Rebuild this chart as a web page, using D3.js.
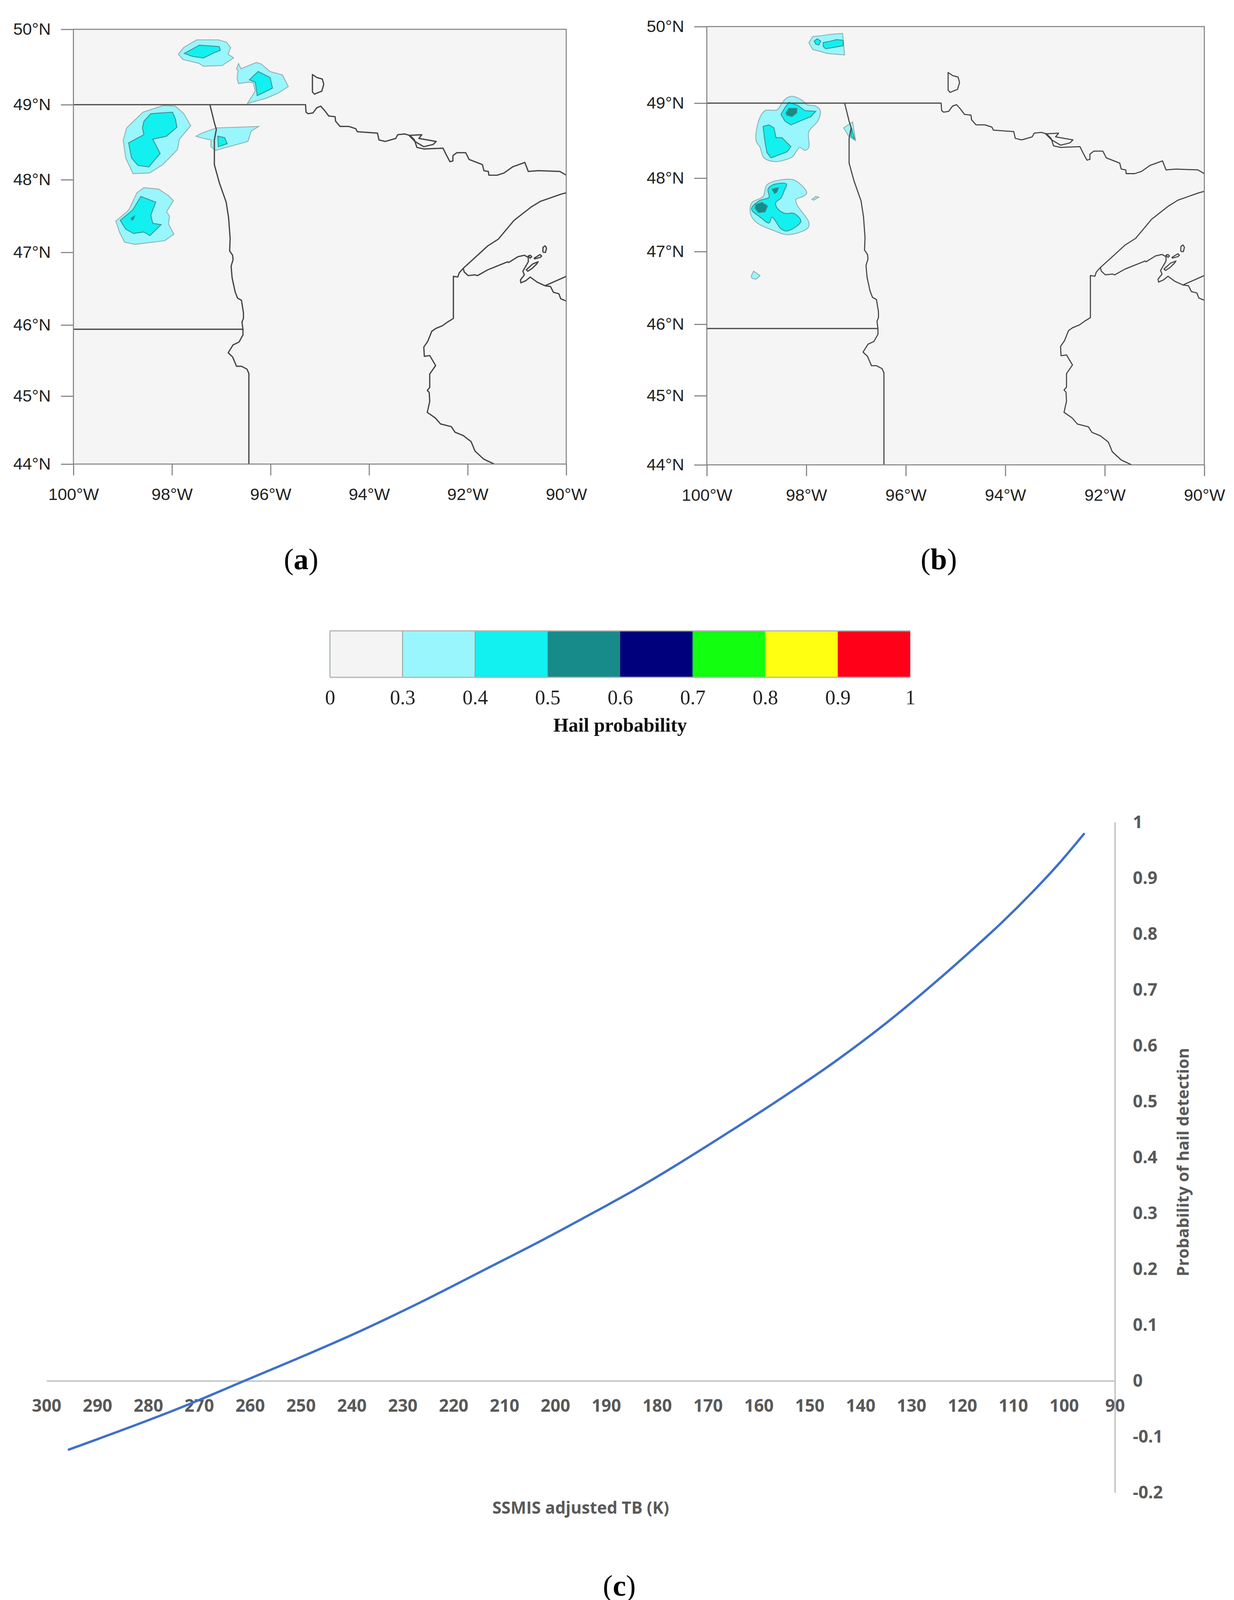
<!DOCTYPE html>
<meta charset="utf-8">
<style>
body { margin: 0; background: #fff; }
</style>
<body>
<script src="https://cdnjs.cloudflare.com/ajax/libs/d3/7.8.5/d3.min.js"></script>
<script>

// map ticks
var lonTicks = [-100, -98, -96, -94, -92, -90];
var latTicks = [44, 45, 46, 47, 48, 49, 50];

// boundaries, [lon, lat]
var canadaBorder = [[-100,49],[-95.29,49],[-95.28,48.90],[-95.24,48.88],[-95.14,48.89],[-95.06,48.96],[-94.98,48.98],[-94.90,48.92],[-94.82,48.85],[-94.69,48.84],[-94.68,48.78],[-94.59,48.71],[-94.41,48.71],[-94.27,48.68],[-94.24,48.64],[-93.83,48.62],[-93.80,48.53],[-93.67,48.51],[-93.46,48.55],[-93.42,48.60],[-93.28,48.61],[-93.17,48.59],[-93.08,48.53],[-93.03,48.43],[-92.89,48.41],[-92.50,48.42],[-92.44,48.34],[-92.36,48.24],[-92.30,48.25],[-92.30,48.32],[-92.22,48.36],[-92.04,48.36],[-91.97,48.27],[-91.70,48.20],[-91.67,48.12],[-91.58,48.11],[-91.57,48.06],[-91.40,48.06],[-91.26,48.09],[-91.09,48.17],[-90.84,48.23],[-90.77,48.11],[-90.57,48.12],[-90.13,48.11],[-90,48.06]];
var rainyLake = [[-93.19,48.59],[-92.93,48.60],[-92.99,48.55],[-92.64,48.51],[-92.70,48.47],[-92.89,48.44],[-93.07,48.51]];
var northwestAngle = [[-95.15,49.40],[-95.15,49.17],[-95.11,49.14],[-94.96,49.18],[-94.92,49.27],[-94.95,49.34],[-95.06,49.36]];
var redRiver = [[-97.23,49],[-97.14,48.76],[-97.10,48.67],[-97.14,48.53],[-97.14,48.20],[-97.04,47.96],[-96.90,47.69],[-96.85,47.47],[-96.82,47.19],[-96.83,47.02],[-96.77,46.96],[-96.76,46.90],[-96.80,46.81],[-96.78,46.65],[-96.72,46.46],[-96.67,46.37],[-96.59,46.34],[-96.55,46.17],[-96.55,46.09],[-96.58,46.04],[-96.56,45.94],[-96.56,45.86],[-96.64,45.76],[-96.76,45.72],[-96.86,45.61],[-96.77,45.55],[-96.69,45.42],[-96.59,45.42],[-96.48,45.38],[-96.44,45.32],[-96.44,44]];
var dakotaLine = [[-100,45.94],[-96.56,45.94]];
var wisconsinLine = [[-91.46,44],[-91.67,44.07],[-91.85,44.19],[-91.93,44.33],[-92.09,44.42],[-92.26,44.47],[-92.33,44.55],[-92.55,44.59],[-92.66,44.68],[-92.82,44.76],[-92.77,44.92],[-92.78,45.05],[-92.82,45.08],[-92.77,45.12],[-92.77,45.31],[-92.65,45.43],[-92.77,45.57],[-92.88,45.56],[-92.89,45.69],[-92.81,45.77],[-92.73,45.91],[-92.65,45.95],[-92.51,45.99],[-92.41,46.04],[-92.29,46.09],[-92.29,46.67],[-92.20,46.66],[-92.17,46.72],[-92.09,46.78]];
var northShore = [[-92.09,46.78],[-91.88,46.91],[-91.59,47.09],[-91.38,47.18],[-91.06,47.44],[-90.72,47.62],[-90.53,47.70],[-90.11,47.80],[-90,47.82]];
var southShore = [[-92.09,46.78],[-92.07,46.73],[-91.99,46.68],[-91.85,46.69],[-91.80,46.68],[-91.59,46.76],[-91.19,46.87],[-91.17,46.86],[-90.98,46.94],[-90.85,46.96],[-90.77,46.93],[-90.77,46.87],[-90.88,46.74],[-90.85,46.69],[-90.93,46.62],[-90.92,46.58],[-90.82,46.61],[-90.73,46.66],[-90.59,46.59],[-90.43,46.54],[-90.32,46.53],[-90.26,46.45],[-90.15,46.43],[-90.11,46.36],[-90,46.33]];
var michiganLine = [[-90.43,46.54],[-90,46.67]];
var islandOne = [[-90.475,47.01],[-90.47,47.07],[-90.43,47.09],[-90.40,47.06],[-90.42,47.00],[-90.46,47.00]];
var islandTwo = [[-90.65,46.92],[-90.53,46.97],[-90.50,46.95],[-90.53,46.93],[-90.64,46.91]];
var islandThree = [[-90.81,46.76],[-90.68,46.84],[-90.57,46.87],[-90.60,46.84],[-90.69,46.78],[-90.78,46.74]];
var islandFour = [[-90.77,46.95],[-90.73,46.96],[-90.70,46.94],[-90.73,46.92]];

// panel (a) hail probability contours, [lon, lat]
var aTopOuter = [[-97.87,49.67],[-97.76,49.76],[-97.50,49.86],[-97.06,49.86],[-96.90,49.83],[-96.81,49.76],[-96.86,49.67],[-96.75,49.62],[-96.98,49.52],[-97.36,49.51],[-97.46,49.55],[-97.78,49.60]];
var aTopInner = [[-97.75,49.68],[-97.44,49.79],[-97.04,49.77],[-97.02,49.72],[-97.14,49.69],[-97.36,49.62],[-97.58,49.64]];
var aEastOuter = [[-96.65,49.545],[-96.60,49.476],[-96.29,49.56],[-96.19,49.54],[-96.01,49.44],[-95.76,49.395],[-95.64,49.24],[-95.84,49.155],[-96.09,49.085],[-96.47,49.016],[-96.31,49.18],[-96.35,49.29],[-96.45,49.30],[-96.65,49.28],[-96.68,49.35],[-96.66,49.45],[-96.69,49.476]];
var aEastInner = [[-96.25,49.44],[-96.01,49.36],[-95.96,49.22],[-96.27,49.12],[-96.31,49.30],[-96.43,49.33]];
var aBigOuter = [[-98.17,48.99],[-97.93,48.98],[-97.76,48.88],[-97.62,48.72],[-97.85,48.54],[-97.89,48.40],[-98.19,48.20],[-98.45,48.09],[-98.79,48.08],[-98.94,48.29],[-98.99,48.53],[-98.92,48.69],[-98.59,48.90]];
var aBigInner = [[-98.57,48.78],[-98.43,48.88],[-97.99,48.90],[-97.93,48.81],[-97.90,48.70],[-98.11,48.58],[-98.39,48.54],[-98.24,48.35],[-98.47,48.17],[-98.69,48.19],[-98.82,48.29],[-98.88,48.49],[-98.57,48.60],[-98.60,48.69]];
var aMidOuter = [[-97.51,48.58],[-97.40,48.62],[-97.10,48.69],[-96.24,48.71],[-96.39,48.65],[-96.46,48.51],[-96.90,48.43],[-97.12,48.39],[-97.21,48.44],[-97.21,48.53],[-97.42,48.56]];
var aMidInner = [[-97.07,48.58],[-96.93,48.56],[-96.88,48.48],[-97.06,48.44]];
var aLowOuter = [[-99.14,47.43],[-98.88,47.58],[-98.71,47.82],[-98.57,47.89],[-98.27,47.87],[-98.07,47.78],[-97.97,47.71],[-98.11,47.56],[-98.05,47.50],[-98.07,47.39],[-97.96,47.25],[-98.15,47.16],[-98.75,47.11],[-98.96,47.14],[-99.06,47.27]];
var aLowInner = [[-99.05,47.44],[-98.80,47.58],[-98.63,47.77],[-98.33,47.69],[-98.43,47.51],[-98.39,47.40],[-98.22,47.38],[-98.45,47.23],[-98.57,47.28],[-98.78,47.26],[-98.94,47.32]];
var aLowCore = [[-98.83,47.47],[-98.76,47.50],[-98.78,47.46],[-98.81,47.44]];

// panel (b) hail probability contours, [lon, lat]
var bTopOuter = [[-97.95,49.79],[-97.87,49.87],[-97.71,49.88],[-97.49,49.90],[-97.27,49.91],[-97.23,49.63],[-97.43,49.64],[-97.59,49.65],[-97.69,49.67],[-97.87,49.70]];
var bTopInnerWest = [[-97.84,49.81],[-97.78,49.84],[-97.71,49.81],[-97.75,49.76],[-97.81,49.77]];
var bTopInnerEast = [[-97.66,49.79],[-97.51,49.81],[-97.39,49.83],[-97.26,49.82],[-97.26,49.75],[-97.43,49.73],[-97.61,49.71],[-97.66,49.74]];
var bBigOuter = [[-98.41,49.06],[-98.29,49.09],[-98.07,49.03],[-97.99,48.98],[-97.81,48.96],[-97.72,48.90],[-97.77,48.76],[-97.95,48.62],[-97.95,48.41],[-98.03,48.37],[-98.13,48.41],[-98.27,48.29],[-98.35,48.26],[-98.63,48.22],[-98.85,48.27],[-98.93,48.41],[-99.01,48.50],[-98.95,48.78],[-98.83,48.90],[-98.59,48.91],[-98.49,49.00]];
var bBigInnerNorth = [[-98.35,49.01],[-98.17,48.97],[-98.03,48.90],[-97.81,48.89],[-97.91,48.82],[-98.31,48.71],[-98.43,48.76],[-98.51,48.85],[-98.43,48.94]];
var bBigCore = [[-98.35,48.93],[-98.19,48.93],[-98.19,48.87],[-98.29,48.82],[-98.39,48.84],[-98.41,48.87]];
var bBigInnerSouth = [[-98.87,48.69],[-98.75,48.71],[-98.65,48.67],[-98.61,48.54],[-98.49,48.54],[-98.31,48.42],[-98.39,48.35],[-98.71,48.27],[-98.79,48.34],[-98.83,48.48]];
var bBorderOuter = [[-97.25,48.67],[-97.07,48.75],[-97.01,48.50],[-97.15,48.56]];
var bBorderInner = [[-97.09,48.67],[-97.03,48.52],[-97.10,48.56]];
var bLowOuter = [[-99.13,47.59],[-99.09,47.67],[-98.87,47.75],[-98.79,47.91],[-98.47,47.98],[-98.23,47.97],[-97.99,47.80],[-98.07,47.75],[-98.21,47.71],[-98.19,47.64],[-97.95,47.40],[-97.97,47.32],[-98.37,47.23],[-98.67,47.29],[-98.99,47.39],[-99.11,47.49]];
var bLowInner = [[-99.10,47.58],[-98.95,47.69],[-98.75,47.74],[-98.77,47.85],[-98.67,47.91],[-98.40,47.92],[-98.45,47.82],[-98.51,47.73],[-98.62,47.66],[-98.57,47.58],[-98.43,47.52],[-98.25,47.52],[-98.11,47.41],[-98.39,47.28],[-98.51,47.31],[-98.69,47.47],[-98.75,47.39],[-98.93,47.47]];
var bLowCoreWest = [[-99.02,47.64],[-98.89,47.67],[-98.78,47.62],[-98.83,47.54],[-98.96,47.53],[-99.03,47.59]];
var bLowCoreNorth = [[-98.69,47.85],[-98.56,47.87],[-98.59,47.81],[-98.64,47.79]];
var bStreak = [[-97.89,47.71],[-97.81,47.75],[-97.75,47.74],[-97.85,47.70]];
var bSouthSpot = [[-99.11,46.66],[-99.06,46.73],[-98.93,46.67],[-99.01,46.62],[-99.09,46.63]];

// colour bar
var legendLabels = ["0", "0.3", "0.4", "0.5", "0.6", "0.7", "0.8", "0.9", "1"];
var legendColors = ["#f4f4f4", "#98f6fc", "#12f0f0", "#178a8a", "#00007c", "#12ff0f", "#ffff12", "#ff0018"];

// panel (c) curve
var tbValues = [295.6, 273.1, 261.1, 250.9, 238.6, 226.4, 214.1, 201.9, 189.7, 186.3, 166.1, 154.9, 145.1, 135.3, 125.5, 117.3, 112.4, 106.0, 101.1, 96.1];
var probValues = [-0.123, -0.046, 0, 0.039, 0.088, 0.141, 0.198, 0.255, 0.315, 0.332, 0.444, 0.510, 0.571, 0.638, 0.712, 0.778, 0.819, 0.877, 0.925, 0.979];
var tbTicks = [300, 290, 280, 270, 260, 250, 240, 230, 220, 210, 200, 190, 180, 170, 160, 150, 140, 130, 120, 110, 100, 90];
var probTicks = [1, 0.9, 0.8, 0.7, 0.6, 0.5, 0.4, 0.3, 0.2, 0.1, 0, -0.1, -0.2];

var width = 3160,
    height = 4115;

var svg = d3.select("body").append("svg")
    .attr("width", width)
    .attr("height", height)
    .style("display", "block");

var probColor = d3.scaleThreshold()
    .domain(legendLabels.slice(1, -1).map(Number))
    .range(legendColors);

var boundaries = [canadaBorder, redRiver, dakotaLine, wisconsinLine, northShore, southShore, michiganLine];
var loops = [rainyLake, northwestAngle, islandOne, islandTwo, islandThree, islandFour];

function drawMap(id, left, right, latRange, contours, lineWidth, rounded) {
    var x = d3.scaleLinear().domain([-100, -90]).range([left, right]);
    var y = d3.scaleLinear().domain(latTicks).range(latRange);
    var top = y(50), bottom = y(44);

    var g = svg.append("g");

    g.append("clipPath").attr("id", "clip-" + id)
        .append("rect")
        .attr("x", left).attr("y", top)
        .attr("width", right - left).attr("height", bottom - top);

    g.append("rect")
        .attr("x", left).attr("y", top)
        .attr("width", right - left).attr("height", bottom - top)
        .attr("fill", "#f5f5f5");

    var plot = g.append("g").attr("clip-path", "url(#clip-" + id + ")");

    var open = d3.line().x(function(d) { return x(d[0]); }).y(function(d) { return y(d[1]); });
    var closed = d3.line().x(open.x()).y(open.y()).curve(d3.curveLinearClosed);
    var smooth = d3.line().x(open.x()).y(open.y()).curve(d3.curveCatmullRomClosed.alpha(0.5));

    plot.selectAll("path.contour")
        .data(contours)
        .enter().append("path")
        .attr("class", "contour")
        .attr("d", function(d) { return rounded && d[1].length > 10 ? smooth(d[1]) : closed(d[1]); })
        .attr("fill", function(d) { return probColor(d[0]); })
        .attr("stroke", function(d) { return d[0] < 0.4 ? "#94adb0" : "#3f8f92"; })
        .attr("stroke-width", 2.2);

    plot.selectAll("path.border")
        .data(boundaries)
        .enter().append("path")
        .attr("class", "border")
        .attr("d", open)
        .attr("fill", "none")
        .attr("stroke", "#444")
        .attr("stroke-width", lineWidth)
        .attr("stroke-linejoin", "round");

    plot.selectAll("path.loop")
        .data(loops)
        .enter().append("path")
        .attr("class", "loop")
        .attr("d", closed)
        .attr("fill", "none")
        .attr("stroke", "#444")
        .attr("stroke-width", lineWidth)
        .attr("stroke-linejoin", "round");

    g.append("rect")
        .attr("x", left).attr("y", top)
        .attr("width", right - left).attr("height", bottom - top)
        .attr("fill", "none")
        .attr("stroke", "#7d7d7d")
        .attr("stroke-width", 2.5);

    var xAxis = g.append("g")
        .attr("transform", "translate(0," + bottom + ")")
        .call(d3.axisBottom(x).tickValues(lonTicks).tickSize(29).tickPadding(32)
            .tickFormat(function(d) { return Math.abs(d) + "°W"; }));

    var yAxis = g.append("g")
        .attr("transform", "translate(" + left + ",0)")
        .call(d3.axisLeft(y).tickValues(latTicks).tickSize(32).tickPadding(26)
            .tickFormat(function(d) { return d + "°N"; }));

    [xAxis, yAxis].forEach(function(axis) {
        axis.select(".domain").remove();
        axis.selectAll("line").attr("stroke", "#8a8a8a").attr("stroke-width", 3);
        axis.selectAll("text")
            .attr("fill", "#222")
            .style("font-family", "'Liberation Sans'")
            .style("font-size", "43px");
    });
}

drawMap("a", 188, 1450, [1188, 1014, 832, 646, 460, 268, 75], [
    [0.3, aTopOuter], [0.4, aTopInner],
    [0.3, aEastOuter], [0.4, aEastInner],
    [0.3, aBigOuter], [0.4, aBigInner],
    [0.3, aMidOuter], [0.4, aMidInner],
    [0.3, aLowOuter], [0.4, aLowInner], [0.5, aLowCore]
], 3.2, false);

drawMap("b", 1810, 3084, [1190, 1013, 830, 644, 456, 264, 68], [
    [0.3, bTopOuter], [0.4, bTopInnerWest], [0.4, bTopInnerEast],
    [0.3, bBigOuter], [0.4, bBigInnerNorth], [0.5, bBigCore], [0.4, bBigInnerSouth],
    [0.3, bBorderOuter], [0.4, bBorderInner],
    [0.3, bLowOuter], [0.4, bLowInner], [0.5, bLowCoreWest], [0.5, bLowCoreNorth],
    [0.3, bStreak], [0.3, bSouthSpot]
], 2.8, true);

// panel letters
function panelLabel(letter, cx, baseline) {
    var t = svg.append("text")
        .attr("x", cx).attr("y", baseline)
        .attr("text-anchor", "middle")
        .attr("fill", "#000")
        .style("font-family", "'Liberation Serif'")
        .style("font-size", "76px");
    t.append("tspan").text("(");
    t.append("tspan").style("font-weight", "bold").text(letter);
    t.append("tspan").text(")");
}

panelLabel("a", 771, 1457);
panelLabel("b", 2404, 1457);
panelLabel("c", 1586, 4085);

// colour bar
var legendX = d3.scalePoint().domain(legendLabels).range([845, 2331]);
var legendTop = 1615, legendBottom = 1734;

var legend = svg.append("g");

legend.selectAll("rect")
    .data(legendColors)
    .enter().append("rect")
    .attr("x", function(d, i) { return legendX(legendLabels[i]); })
    .attr("y", legendTop)
    .attr("width", legendX.step())
    .attr("height", legendBottom - legendTop)
    .attr("fill", function(d) { return d; });

// dividers show only on the pale end of the bar
legend.selectAll("line.divider")
    .data(legendLabels.slice(0, 4))
    .enter().append("line")
    .attr("class", "divider")
    .attr("x1", legendX).attr("x2", legendX)
    .attr("y1", legendTop).attr("y2", legendBottom)
    .attr("stroke", "#8f9a9a")
    .attr("stroke-width", 2);

legend.selectAll("line.edge")
    .data([legendTop, legendBottom])
    .enter().append("line")
    .attr("class", "edge")
    .attr("x1", legendX("0")).attr("x2", legendX("1"))
    .attr("y1", function(d) { return d; }).attr("y2", function(d) { return d; })
    .attr("stroke", "#b4b4b4")
    .attr("stroke-width", 3);

var legendAxis = legend.append("g")
    .attr("transform", "translate(0," + legendBottom + ")")
    .call(d3.axisBottom(legendX).tickSize(0).tickPadding(32));
legendAxis.select(".domain").remove();
legendAxis.selectAll("text")
    .attr("fill", "#222")
    .style("font-family", "'Liberation Serif'")
    .style("font-size", "52px");

legend.append("text")
    .attr("x", 1588).attr("y", 1873)
    .attr("text-anchor", "middle")
    .attr("fill", "#111")
    .style("font-family", "'Liberation Serif'")
    .style("font-weight", "bold")
    .style("font-size", "50px")
    .text("Hail probability");

// panel (c)
var tbScale = d3.scaleLinear().domain([300, 90]).range([119, 2855]);
var probScale = d3.scaleLinear().domain([-0.2, 1]).range([3821, 2105]);

var curve = d3.line()
    .x(function(d, i) { return tbScale(d); })
    .y(function(d, i) { return probScale(probValues[i]); })
    .curve(d3.curveMonotoneX);

var tbAxis = svg.append("g")
    .attr("transform", "translate(0," + probScale(0) + ")")
    .call(d3.axisBottom(tbScale).tickValues(tbTicks).tickSize(0).tickPadding(48));

var probAxis = svg.append("g")
    .attr("transform", "translate(" + tbScale(90) + ",0)")
    .call(d3.axisRight(probScale).tickValues(probTicks).tickSize(0).tickPadding(46)
        .tickFormat(function(d) { return String(d); }));

[tbAxis, probAxis].forEach(function(axis) {
    axis.select(".domain").attr("stroke", "#c6c6c6").attr("stroke-width", 4);
    axis.selectAll("text")
        .attr("fill", "#595959")
        .style("font-family", "'Open Sans'")
        .style("font-weight", "bold")
        .style("font-size", "44px");
});

svg.append("path")
    .attr("d", curve(tbValues))
    .attr("fill", "none")
    .attr("stroke", "#3f70c8")
    .attr("stroke-width", 6)
    .attr("stroke-linecap", "round");

svg.append("text")
    .attr("x", 1487).attr("y", 3875)
    .attr("text-anchor", "middle")
    .attr("fill", "#595959")
    .style("font-family", "'Open Sans'")
    .style("font-weight", "bold")
    .style("font-size", "42.5px")
    .text("SSMIS adjusted TB (K)");

svg.append("text")
    .attr("transform", "translate(3044,2975) rotate(-90)")
    .attr("text-anchor", "middle")
    .attr("fill", "#595959")
    .style("font-family", "'Open Sans'")
    .style("font-weight", "bold")
    .style("font-size", "42px")
    .text("Probability of hail detection");

</script>
